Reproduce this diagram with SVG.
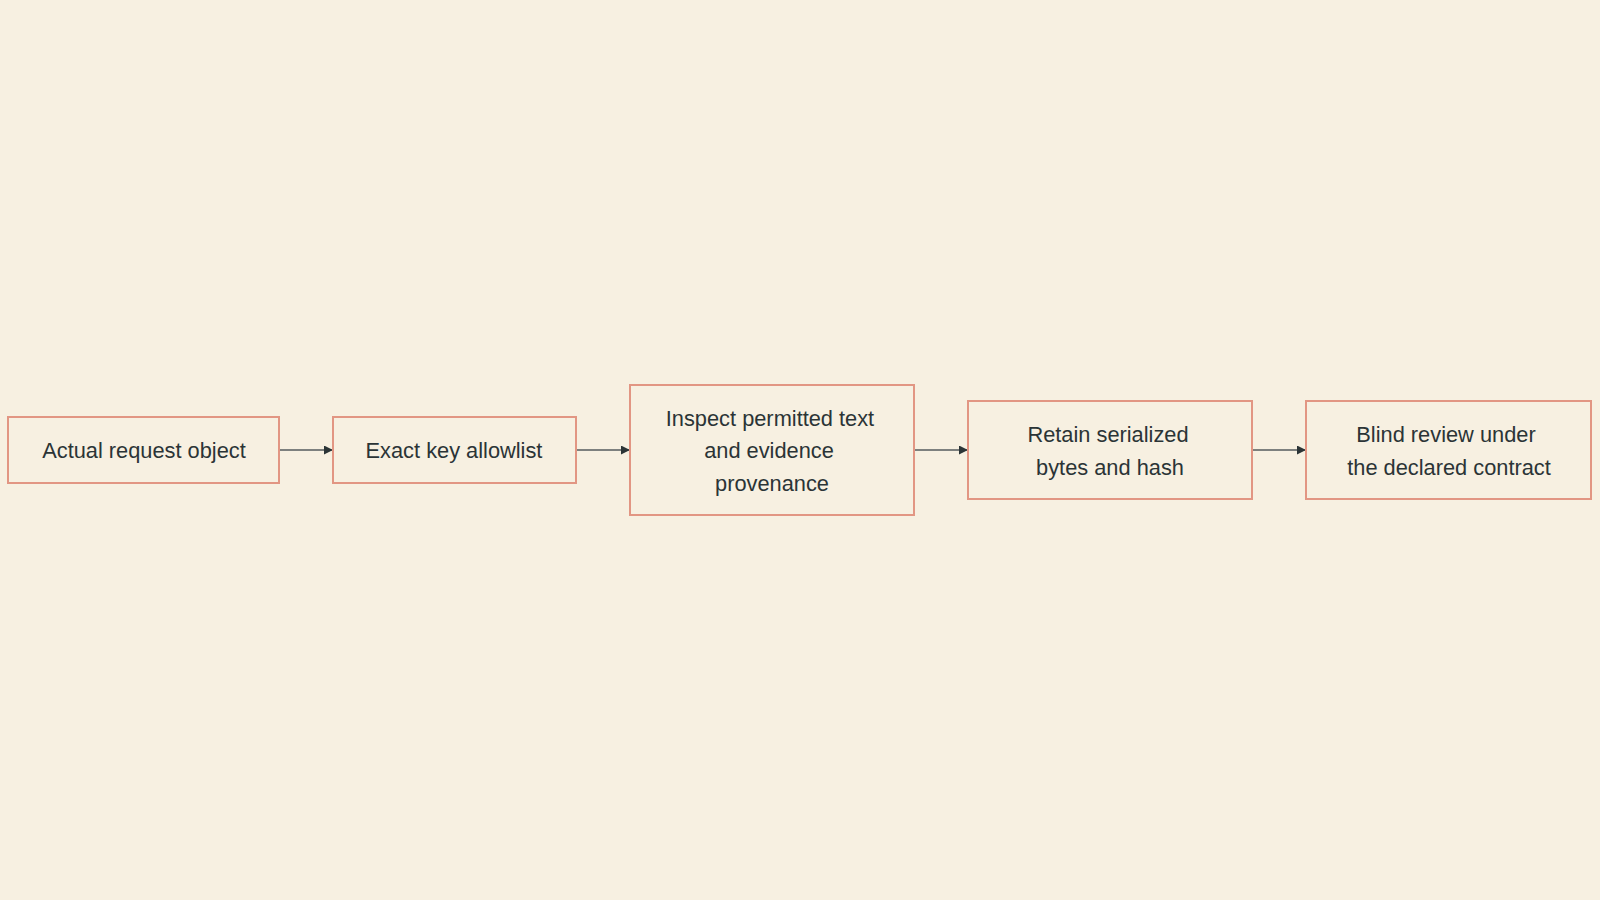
<svg xmlns="http://www.w3.org/2000/svg" width="1600" height="900" viewBox="0 0 1600 900">
<defs>
<style>
.box{fill:#f7f0e1;stroke:#e29683;stroke-width:2}
.lbl{font-family:"Liberation Sans",Arial,sans-serif;font-size:21.8px;fill:#2b3436;text-anchor:middle;dominant-baseline:central}
.edge{stroke:#555b5c;stroke-width:1.5;fill:none}
</style>
<marker id="arr" viewBox="0 0 10 10" refX="10" refY="5" markerWidth="9" markerHeight="9" markerUnits="userSpaceOnUse" orient="auto">
<path d="M0,0 L10,5 L0,10 z" fill="#2b3436"/>
</marker>
</defs>
<rect width="1600" height="900" fill="#f7f0e1"/>
<g id="connectors">
<line class="edge" x1="279" y1="450" x2="333" y2="450" marker-end="url(#arr)"/>
<line class="edge" x1="576" y1="450" x2="630" y2="450" marker-end="url(#arr)"/>
<line class="edge" x1="914" y1="450" x2="968" y2="450" marker-end="url(#arr)"/>
<line class="edge" x1="1252" y1="450" x2="1306" y2="450" marker-end="url(#arr)"/>
</g>
<g id="n1">
<rect class="box" x="8" y="417" width="271" height="66"/>
<text class="lbl" x="144" y="450">Actual request object</text>
</g>
<g id="n2">
<rect class="box" x="333" y="417" width="243" height="66"/>
<text class="lbl" x="454" y="450">Exact key allowlist</text>
</g>
<g id="n3">
<rect class="box" x="630" y="385" width="284" height="130"/>
<text class="lbl" x="770" y="418">Inspect permitted text</text>
<text class="lbl" x="769" y="450">and evidence</text>
<text class="lbl" x="772" y="483">provenance</text>
</g>
<g id="n4">
<rect class="box" x="968" y="401" width="284" height="98"/>
<text class="lbl" x="1108" y="434">Retain serialized</text>
<text class="lbl" x="1110" y="467">bytes and hash</text>
</g>
<g id="n5">
<rect class="box" x="1306" y="401" width="285" height="98"/>
<text class="lbl" x="1446" y="434">Blind review under</text>
<text class="lbl" x="1449" y="467">the declared contract</text>
</g>
</svg>
